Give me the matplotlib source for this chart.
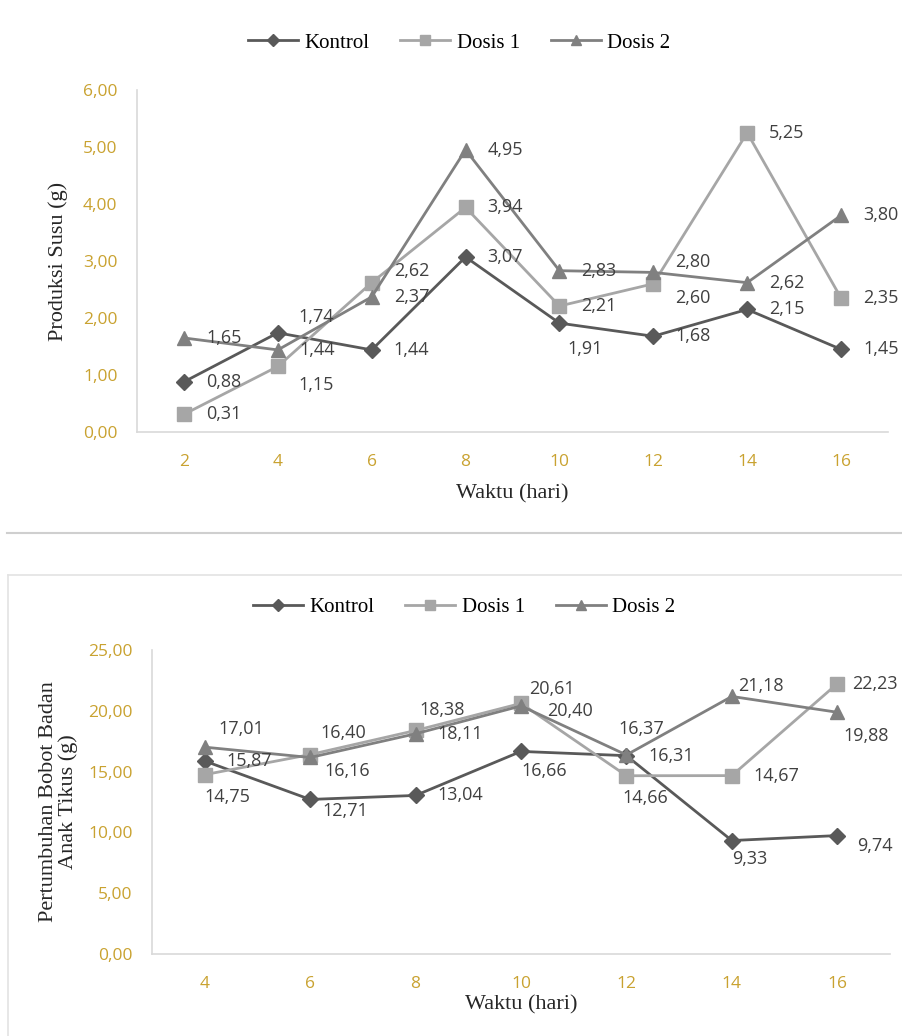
import numpy as np
import matplotlib
matplotlib.use("Agg")
import matplotlib.pyplot as plt
from matplotlib.lines import Line2D

# --- produksi susu (g) ---
hari_susu = [2, 4, 6, 8, 10, 12, 14, 16]
susu_kontrol = [0.88, 1.74, 1.44, 3.07, 1.91, 1.68, 2.15, 1.45]
susu_dosis1 = [0.31, 1.15, 2.62, 3.94, 2.21, 2.60, 5.25, 2.35]
susu_dosis2 = [1.65, 1.44, 2.37, 4.95, 2.83, 2.80, 2.62, 3.80]

# --- pertumbuhan bobot badan anak tikus (g) ---
hari_bobot = [4, 6, 8, 10, 12, 14, 16]
bobot_kontrol = [15.87, 12.71, 13.04, 16.66, 16.31, 9.33, 9.74]
bobot_dosis1 = [14.75, 16.40, 18.38, 20.61, 14.66, 14.67, 22.23]
bobot_dosis2 = [17.01, 16.16, 18.11, 20.40, 16.37, 21.18, 19.88]

# label offsets in pixels (dx, dy, ha)
R = (22, 0, "left")
off_susu = {
    "Kontrol": [R, (21, 16, "left"), R, R, (8, -26, "left"), R, R, R],
    "Dosis 1": [R, (21, -19, "left"), (22, 12, "left"), R, R, (22, -14, "left"), R, R],
    "Dosis 2": [R, R, R, R, R, (22, 10, "left"), R, R],
}
off_bobot = {
    "Kontrol": [R, (12, -12, "left"), R, (0, -20, "left"), R, (0, -18, "left"), (20, -10, "left")],
    "Dosis 1": [(0, -22, "left"), (10, 22, "left"), (4, 20, "left"), (8, 14, "left"), (-4, -22, "left"), R, (15, 0, "left")],
    "Dosis 2": [(14, 18, "left"), (14, -14, "left"), R, (26, -5, "left"), (-8, 26, "left"), (6, 10, "left"), (6, -24, "left")],
}

C_KON = "#595959"
C_D1 = "#A6A6A6"
C_D2 = "#808080"
GOLD = "#C9A230"
SERIF = "Liberation Serif"
SANS = "Open Sans"

styles = [("Kontrol", C_KON, "D", 8), ("Dosis 1", C_D1, "s", 10), ("Dosis 2", C_D2, "^", 10)]

fig = plt.figure(figsize=(9.02, 10.36), dpi=100)


def fmt(v):
    return f"{v:.2f}".replace(".", ",")


def draw(ax, days, series, offsets, ymax, ystep, ylabel, xpad, ypad):
    x = np.arange(1, len(days) + 1)
    for (name, col, mk, ms), vals in zip(styles, series):
        ax.plot(x, vals, color=col, lw=2.0, marker=mk, ms=ms, zorder=3)
        for xi, v, (dx, dy, ha) in zip(x, vals, offsets[name]):
            ax.annotate(fmt(v), (xi, v), xytext=(dx, dy), textcoords="offset pixels",
                        ha=ha, va="center", fontsize=13, color="#404040",
                        family=SANS, zorder=4)
    ax.set_xlim(0.5, len(days) + 0.5)
    ax.set_ylim(0, ymax)
    ax.set_xticks(x)
    ax.set_xticklabels([str(d) for d in days])
    yt = np.arange(0, ymax + 0.001, ystep)
    ax.set_yticks(yt)
    ax.set_yticklabels([fmt(t) for t in yt])
    for lab in ax.get_xticklabels() + ax.get_yticklabels():
        lab.set_family(SANS)
        lab.set_fontsize(12.5)
        lab.set_color(GOLD)
    ax.tick_params(length=0, pad=14)
    ax.tick_params(axis="x", pad=16)
    for s in ["top", "right"]:
        ax.spines[s].set_visible(False)
    for s in ["left", "bottom"]:
        ax.spines[s].set_color("#D9D9D9")
        ax.spines[s].set_linewidth(1.2)
    ax.set_xlabel("Waktu (hari)", family=SERIF, fontsize=16, color="#262626", labelpad=xpad)
    ax.set_ylabel(ylabel, family=SERIF, fontsize=16, color="#262626", labelpad=ypad,
                  linespacing=1.05)


def legend(anchor):
    handles = [Line2D([], [], color=c, lw=2.0, marker=m, ms=ms * 0.75) for _, c, m, ms in styles]
    fig.legend(handles, [s[0] for s in styles], loc="center", bbox_to_anchor=anchor,
               ncol=3, frameon=False, handlelength=2.4, handletextpad=0.3,
               columnspacing=1.5, prop={"family": SERIF, "size": 15})


ax1 = fig.add_axes([137 / 902, 1 - 432 / 1036, (888 - 137) / 902, (432 - 90) / 1036])
draw(ax1, hari_susu, [susu_kontrol, susu_dosis1, susu_dosis2], off_susu, 6, 1,
     "Produksi Susu (g)", 10, 11)
legend((459 / 902, 1 - 43 / 1036))

ax2 = fig.add_axes([152 / 902, 1 - 954 / 1036, (890 - 152) / 902, (954 - 650) / 1036])
draw(ax2, hari_bobot, [bobot_kontrol, bobot_dosis1, bobot_dosis2], off_bobot, 25, 5,
     "Pertumbuhan Bobot Badan\nAnak Tikus (g)", 2, 7)
legend((464 / 902, 1 - 607 / 1036))

# separator and frame of the lower chart
fig.add_artist(Line2D([7 / 902, 1], [1 - 533 / 1036] * 2, color="#CFCFCF", lw=1.5))
fig.add_artist(Line2D([8 / 902, 1], [1 - 575 / 1036] * 2, color="#E3E3E3", lw=1.2))
fig.add_artist(Line2D([8 / 902, 8 / 902], [0, 1 - 575 / 1036], color="#E3E3E3", lw=1.2))

fig.savefig("out.png", dpi=100)
